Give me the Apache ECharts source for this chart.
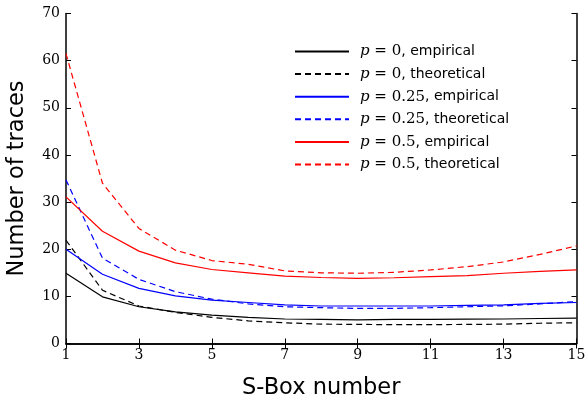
<!DOCTYPE html>
<html>
<head>
<meta charset="utf-8">
<script src="https://cdn.jsdelivr.net/npm/echarts@6/dist/echarts.min.js"></script>
<style>
  html, body { margin: 0; padding: 0; background: #fff; }
  #chart { width: 587px; height: 397px; }
</style>
</head>
<body>
<div id="chart"></div>
<script>
// S-Box index 1..15
var sboxes = [1, 2, 3, 4, 5, 6, 7, 8, 9, 10, 11, 12, 13, 14, 15];

var p0Emp = [14.9, 9.9, 7.8, 6.7, 6.0, 5.55, 5.2, 5.1, 5.0, 5.1, 5.1, 5.15, 5.2, 5.3, 5.4];
var p0Theo = [21.9, 11.3, 7.95, 6.6, 5.55, 4.8, 4.4, 4.1, 4.05, 4.0, 4.0, 4.05, 4.1, 4.3, 4.4];
var p25Emp = [20.0, 14.7, 11.7, 10.1, 9.2, 8.7, 8.2, 7.95, 7.95, 7.95, 7.95, 8.1, 8.2, 8.5, 8.7];
var p25Theo = [34.7, 18.1, 13.6, 11.0, 9.4, 8.4, 7.8, 7.6, 7.45, 7.45, 7.6, 7.8, 8.0, 8.4, 8.9];
var p5Emp = [31.1, 23.8, 19.6, 17.1, 15.7, 15.0, 14.3, 14.0, 13.8, 13.95, 14.2, 14.4, 14.9, 15.3, 15.6];
var p5Theo = [61.5, 34.0, 24.4, 19.8, 17.6, 16.8, 15.4, 15.0, 14.9, 15.1, 15.6, 16.3, 17.3, 18.9, 20.7];

var legendNames = [
  'p = 0, empirical', 'p = 0, theoretical',
  'p = 0.25, empirical', 'p = 0.25, theoretical',
  'p = 0.5, empirical', 'p = 0.5, theoretical'
];

function makeLine(name, data, color, dashed) {
  return {
    name: name,
    type: 'line',
    data: data,
    symbol: 'none',
    smooth: false,
    lineStyle: {
      color: color,
      width: 1.2,
      type: dashed ? [6, 4] : 'solid'
    },
    itemStyle: { color: color }
  };
}

var chart = echarts.init(document.getElementById('chart'));

var tickStyle = { inside: true, length: 5, lineStyle: { color: '#000', width: 1 } };
var lineStyleAxis = { lineStyle: { color: '#000', width: 1.5 } };

chart.setOption({
  animation: false,
  backgroundColor: '#fff',
  grid: { left: 66, right: 10.5, top: 13.5, bottom: 53.5, outerBoundsMode: 'none', containLabel: false },
  legend: {
    orient: 'vertical',
    left: 289,
    top: 39,
    itemWidth: 54,
    itemHeight: 14,
    itemGap: 7.6,
    itemStyle: { opacity: 0 },
    data: legendNames,
    formatter: function (name) {
      // "p = 0, empirical" -> italic p, serif number, sans description
      var m = name.match(/^p = ([0-9.]+), (.*)$/);
      return '{i|p}{s| = ' + m[1] + '}{t|, ' + m[2] + '}';
    },
    textStyle: {
      padding: [0, 0, 0, 6],
      rich: {
        i: { fontFamily: 'DejaVu Serif', fontStyle: 'italic', fontSize: 15, color: '#000' },
        s: { fontFamily: 'DejaVu Serif', fontSize: 15, color: '#000' },
        t: { fontFamily: 'DejaVu Sans', fontSize: 14, color: '#000' }
      }
    }
  },
  xAxis: [{
    type: 'category',
    data: sboxes,
    boundaryGap: false,
    name: 'S-Box number',
    nameLocation: 'middle',
    nameGap: 33,
    nameTextStyle: { fontFamily: 'DejaVu Sans', fontSize: 22.5, color: '#000' },
    axisLine: lineStyleAxis,
    axisTick: Object.assign({ interval: 1 }, tickStyle),
    axisLabel: { interval: 1, margin: 5, fontFamily: 'DejaVu Serif', fontSize: 14, color: '#000' },
    splitLine: { show: false }
  }, {
    type: 'category',
    data: sboxes,
    boundaryGap: false,
    position: 'top',
    axisLine: lineStyleAxis,
    axisTick: Object.assign({ interval: 1 }, tickStyle),
    axisLabel: { show: false },
    splitLine: { show: false }
  }],
  yAxis: [{
    type: 'value',
    min: 0,
    max: 70,
    interval: 10,
    name: 'Number of traces',
    nameLocation: 'middle',
    nameGap: 37,
    nameTextStyle: { fontFamily: 'DejaVu Sans', fontSize: 22.5, color: '#000' },
    axisLine: Object.assign({ show: true }, lineStyleAxis),
    axisTick: Object.assign({ show: true }, tickStyle),
    axisLabel: { margin: 6, fontFamily: 'DejaVu Serif', fontSize: 14, color: '#000' },
    splitLine: { show: false }
  }, {
    type: 'value',
    min: 0,
    max: 70,
    interval: 10,
    position: 'right',
    axisLine: Object.assign({ show: true }, lineStyleAxis),
    axisTick: Object.assign({ show: true }, tickStyle),
    axisLabel: { show: false },
    splitLine: { show: false }
  }],
  series: [
    makeLine(legendNames[0], p0Emp, '#000000', false),
    makeLine(legendNames[1], p0Theo, '#000000', true),
    makeLine(legendNames[2], p25Emp, '#0000ff', false),
    makeLine(legendNames[3], p25Theo, '#0000ff', true),
    makeLine(legendNames[4], p5Emp, '#ff0000', false),
    makeLine(legendNames[5], p5Theo, '#ff0000', true)
  ]
});
</script>
</body>
</html>
